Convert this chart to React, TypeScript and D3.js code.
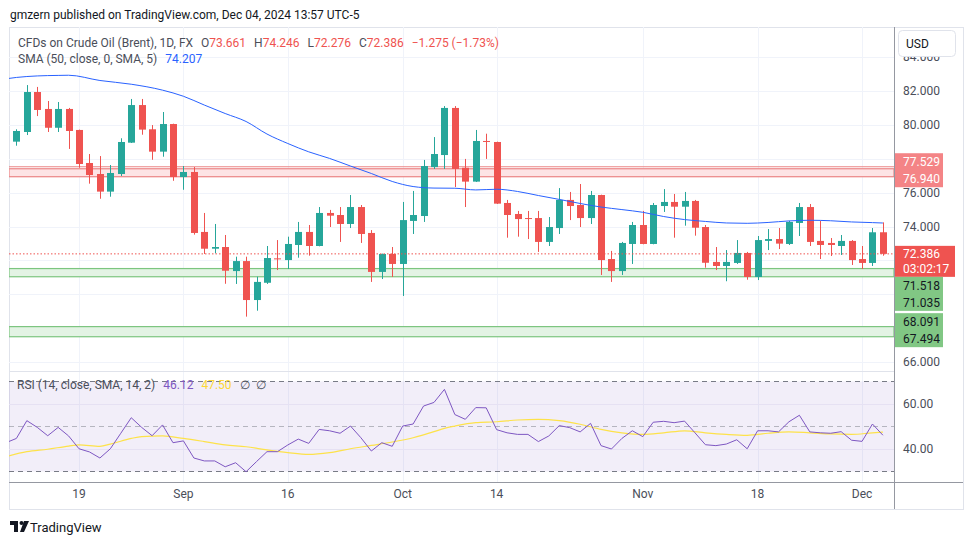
import React, { useEffect } from "react";
import * as d3 from "d3";

const W = 970;
const H = 545;

// time axis
const tickIdx = [6, 16, 26, 37, 46, 60, 71, 81];
const tickLabels = ["19", "Sep", "16", "Oct", "14", "Nov", "18", "Dec"];
const priceTicks = [84, 82, 80, 78, 76, 74, 72, 70, 68, 66];
const rsiTicks = [60, 40];

// OHLC (Aug 9 .. Dec 4, 2024)
const openP = [79.01, 79.58, 81.94, 80.94, 79.83, 80.94, 79.70, 77.75, 77.10, 76.06,
  77.10, 78.95, 81.17, 79.74, 78.42, 80.05, 76.92, 77.22, 73.68, 72.69,
  72.79, 71.37, 71.96, 69.66, 70.68, 72.12, 72.02, 72.91, 73.68, 72.85,
  74.80, 74.68, 74.15, 75.15, 73.62, 71.32, 72.38, 71.79, 74.33, 74.62,
  77.51, 78.22, 81.00, 77.47, 76.65, 79.05, 78.99, 75.39, 74.74, 74.50,
  74.50, 73.09, 73.91, 75.57, 75.27, 74.50, 75.86, 72.08, 71.37, 72.97,
  74.09, 72.97, 75.21, 75.45, 75.17, 75.51, 73.97, 71.91, 71.67, 71.85,
  72.44, 71.02, 73.15, 73.26, 72.97, 74.21, 75.15, 73.15, 73.03, 72.85,
  73.15, 72.08, 71.85, 73.661];
const highP = [79.74, 82.35, 82.24, 81.41, 81.35, 81.00, 79.72, 78.28, 78.16, 77.63,
  79.21, 81.53, 81.53, 79.99, 80.76, 80.07, 77.57, 77.51, 74.80, 74.15,
  73.50, 72.22, 72.22, 71.04, 72.85, 73.20, 73.40, 74.27, 74.09, 75.15,
  74.98, 75.15, 75.86, 75.27, 73.79, 72.40, 72.79, 75.45, 76.10, 77.93,
  79.28, 81.11, 81.11, 77.99, 79.70, 79.48, 79.01, 75.57, 74.92, 74.92,
  74.92, 74.56, 76.27, 76.04, 76.51, 76.10, 75.88, 72.56, 73.09, 74.27,
  74.92, 75.39, 76.21, 75.92, 76.04, 75.57, 74.09, 72.79, 72.61, 73.20,
  72.50, 73.44, 73.85, 73.91, 74.33, 75.39, 75.33, 74.33, 73.32, 73.50,
  73.20, 72.85, 73.91, 74.246];
const lowP = [78.77, 79.40, 80.52, 79.58, 79.58, 78.58, 77.47, 76.53, 75.64, 75.76,
  76.98, 78.93, 79.42, 77.94, 78.12, 76.70, 76.17, 73.52, 72.38, 72.42,
  70.62, 70.61, 68.68, 69.03, 70.61, 71.43, 71.49, 72.16, 72.28, 72.83,
  73.97, 73.09, 73.91, 73.03, 70.73, 70.90, 71.02, 69.90, 73.56, 74.27,
  77.40, 77.40, 76.33, 75.15, 76.63, 77.99, 75.33, 73.34, 73.40, 73.26,
  72.50, 72.85, 73.56, 74.38, 73.97, 74.15, 71.14, 70.73, 71.14, 71.79,
  72.95, 72.95, 74.86, 73.34, 74.05, 73.46, 71.57, 71.43, 70.77, 71.79,
  70.86, 70.84, 72.61, 72.67, 72.91, 73.44, 72.85, 72.08, 72.26, 72.32,
  71.73, 71.49, 71.67, 72.276];
const closeP = [79.64, 81.94, 80.88, 79.83, 80.94, 79.64, 77.69, 77.04, 76.06, 77.16,
  78.99, 81.17, 79.72, 78.42, 80.05, 76.92, 77.22, 73.62, 72.69, 72.79,
  71.39, 71.96, 69.66, 70.73, 72.14, 72.08, 72.97, 73.68, 72.85, 74.80,
  74.64, 74.15, 75.15, 73.56, 71.32, 72.38, 71.79, 74.38, 74.68, 77.57,
  78.28, 81.00, 77.40, 76.65, 79.05, 79.01, 75.35, 74.68, 74.44, 74.47,
  73.09, 73.97, 75.57, 75.21, 74.50, 75.86, 72.02, 71.37, 73.03, 74.09,
  72.97, 75.27, 75.45, 75.17, 75.51, 73.93, 71.86, 71.67, 71.91, 72.44,
  71.02, 73.20, 73.26, 72.99, 74.27, 75.15, 73.09, 72.91, 72.91, 73.15,
  72.02, 71.85, 73.66, 72.386];

// SMA(50) read at sampled bars (index, value)
const smaIdx = [-1, 0, 2, 4, 5, 8, 11, 14, 16, 18, 20, 22, 24, 26, 28, 30, 32, 34, 36, 38, 40,
  42, 44, 46, 48, 50, 52, 54, 56, 58, 60, 62, 64, 66, 68, 70, 72, 74, 76, 78, 80, 82, 83];
const smaVal = [82.72, 82.80, 82.89, 82.92, 82.93, 82.62, 82.40, 82.05, 81.69, 81.17, 80.67,
  80.20, 79.46, 78.90, 78.41, 78.02, 77.57, 77.13, 76.66, 76.36, 76.27, 76.26, 76.16, 76.20,
  76.07, 75.83, 75.60, 75.36, 75.15, 75.00, 74.84, 74.59, 74.41, 74.30, 74.21, 74.19, 74.24,
  74.33, 74.37, 74.34, 74.27, 74.23, 74.207];

// RSI(14)
const rsiLead = 42.8;
const rsiVal = [44.7, 52.6, 49.6, 45.9, 49.6, 45.8, 40.1, 38.7, 36.0, 40.1,
  47.0, 53.9, 49.6, 45.9, 50.7, 42.8, 43.6, 36.0, 34.7, 34.7,
  32.1, 33.9, 29.9, 34.4, 38.8, 38.8, 41.8, 44.4, 42.5, 48.7,
  48.1, 47.0, 50.2, 45.0, 39.1, 42.8, 41.2, 50.2, 51.1, 59.1,
  60.7, 66.5, 55.3, 53.2, 58.4, 58.3, 48.6, 47.2, 46.5, 46.5,
  43.3, 45.8, 50.4, 49.5, 47.6, 51.4, 41.5, 40.0, 44.7, 48.1,
  45.5, 51.9, 52.3, 51.7, 52.4, 47.2, 41.9, 41.5, 42.2, 44.1,
  40.1, 48.1, 48.1, 47.6, 52.1, 55.0, 47.6, 47.2, 47.0, 47.7,
  43.9, 43.4, 51.1, 46.12];
// RSI SMA(14) sampled
const rsiSmaIdx = [-1, 1, 3, 5, 6, 8, 9, 11, 12, 14, 16, 18, 20, 22, 24, 26, 28, 30, 32, 34, 36,
  38, 40, 41, 42, 44, 46, 48, 50, 52, 54, 56, 58, 60, 62, 64, 66, 68, 70, 72, 74, 76, 78, 80, 82, 83];
const rsiSmaVal = [36.6, 38.8, 39.9, 41.3, 41.8, 41.2, 42.2, 44.7, 45.5, 45.8, 44.7, 43.3, 41.8,
  41.0, 39.6, 38.4, 37.6, 38.4, 40.1, 41.6, 43.1, 45.0, 47.7, 49.2, 50.2, 51.7, 52.1, 52.9,
  53.2, 52.6, 51.0, 48.7, 47.2, 46.5, 47.2, 48.1, 47.2, 46.5, 46.1, 47.0, 47.6, 47.2, 46.7,
  46.5, 47.2, 47.5];

// drawings
const redLine = 77.529;
const redZone = [77.41, 76.94];
const greenZones = [[71.518, 71.035], [68.091, 67.494]];
const lastPrice = 72.386;

const GREEN = "#26A69A";
const RED = "#EF5350";
const FONT = "Roboto, 'Open Sans', Arial, sans-serif";

// layout
const PL = 9, PR = 894, PT = 27, PB = 371, RB = 482, AB = 509, FR = 963;

export default function App() {
  useEffect(() => {
    document.body.style.margin = "0";
  }, []);

  const x = d3.scaleLinear().domain([0, 83]).range([16.4, 882.9]);
  const y = d3.scaleLinear().domain([66, 82]).range([362.04, 91]);
  const ry = d3.scaleLinear().domain([30, 70]).range([471.5, 381.5]);

  const smaLine = d3.line<number>()
    .x((_, i) => x(smaIdx[i]))
    .y((d) => y(d))
    .curve(d3.curveMonotoneX)(smaVal) || "";

  const rsiPts: [number, number][] = [[-1, rsiLead], ...rsiVal.map((v, i) => [i, v] as [number, number])];
  const rsiPath = d3.line<[number, number]>().x((d) => x(d[0])).y((d) => ry(d[1]))(rsiPts) || "";
  const rsiSmaPath = d3.line<number>()
    .x((_, i) => x(rsiSmaIdx[i]))
    .y((d) => ry(d))
    .curve(d3.curveMonotoneX)(rsiSmaVal) || "";

  // label layout
  const LH = 17;
  const curTop = y(lastPrice) - 8;
  const curBot = curTop + 31;
  const groupTop = (a: number, b: number) => {
    const mid = (y(a) + y(b)) / 2;
    let top = mid - LH - 1.5;
    if (top < curBot && top + 2 * LH > curTop) top = curBot;
    return top;
  };
  const redTop = groupTop(redLine, redZone[1]);
  const g1Top = groupTop(greenZones[0][0], greenZones[0][1]);
  const g2Top = groupTop(greenZones[1][0], greenZones[1][1]);

  const boxes = [
    [redTop, redTop + 2 * LH],
    [curTop, curBot],
    [g1Top, g1Top + 2 * LH],
    [g2Top, g2Top + 2 * LH],
  ];
  const visibleTicks = priceTicks.filter((t) => {
    const ty = y(t);
    return !boxes.some(([a, b]) => ty > a - 4 && ty < b + 4);
  });

  const gridC = "#F0F3FA";
  const axisText = "#4A4E59";

  return (
    <svg width={W} height={H} style={{ position: "absolute", left: 0, top: 0, background: "#fff" }} fontFamily={FONT}>
      <defs>
        <clipPath id="pp"><rect x={PL} y={PT} width={PR - PL} height={PB - PT} /></clipPath>
        <clipPath id="rp"><rect x={PL} y={PB} width={PR - PL} height={RB - PB} /></clipPath>
        <clipPath id="ax"><rect x={PR + 1} y={57} width={FR - PR - 1} height={AB - 57} /></clipPath>
      </defs>
      <rect x={0} y={0} width={W} height={H} fill="#fff" />

      {/* header */}
      <text x={10} y={18.5} fontSize={12} fill="#131722">gmzern published on TradingView.com, Dec 04, 2024 13:57 UTC-5</text>

      {/* frame */}
      <rect x={PL + 0.5} y={PT + 0.5} width={FR - PL} height={AB - PT} fill="none" stroke="#E0E3EB" />

      {/* grid price pane */}
      <g clipPath="url(#pp)">
        {priceTicks.map((t) => (
          <line key={t} x1={PL} x2={PR} y1={Math.round(y(t)) + 0.5} y2={Math.round(y(t)) + 0.5} stroke={gridC} />
        ))}
      </g>
      {tickIdx.map((t) => (
        <line key={t} x1={Math.round(x(t)) + 0.5} x2={Math.round(x(t)) + 0.5} y1={PT} y2={RB} stroke={gridC} />
      ))}

      {/* zones */}
      <g clipPath="url(#pp)">
        <line x1={PL} x2={PR} y1={y(redLine)} y2={y(redLine)} stroke="#EB8686" strokeWidth={1.2} />
        <rect x={PL} y={y(redZone[0])} width={PR - PL} height={y(redZone[1]) - y(redZone[0])} fill="#FDE4E5" stroke="#EB8686" strokeWidth={1.2} />
        {greenZones.map((z, i) => (
          <rect key={i} x={PL} y={y(z[0])} width={PR - PL} height={y(z[1]) - y(z[0])} fill="#E3F3E4" stroke="#7CC57F" strokeWidth={1.2} />
        ))}
      </g>

      {/* candles */}
      <g clipPath="url(#pp)">
        {openP.map((o, i) => {
          const c = closeP[i];
          const up = c >= o;
          const col = up ? GREEN : RED;
          const cx = Math.round(x(i)) + 0.5;
          const yt = y(Math.max(o, c));
          const yb = y(Math.min(o, c));
          return (
            <g key={i}>
              <line x1={cx} x2={cx} y1={y(highP[i])} y2={y(lowP[i])} stroke={col} />
              <rect x={cx - 3.5} y={yt} width={7} height={Math.max(1, yb - yt)} fill={col} />
            </g>
          );
        })}
        <path d={smaLine} fill="none" stroke="#2962FF" strokeWidth={1} />
        <line x1={PL} x2={PR} y1={y(lastPrice)} y2={y(lastPrice)} stroke={RED} strokeDasharray="1.5 2" />
      </g>

      {/* legend */}
      <text x={18} y={46.5} fontSize={12} fill="#4A4E59">
        CFDs on Crude Oil (Brent), 1D, FX
        <tspan dx={8}>O</tspan><tspan fill={RED}>73.661</tspan>
        <tspan dx={8}>H</tspan><tspan fill={RED}>74.246</tspan>
        <tspan dx={8}>L</tspan><tspan fill={RED}>72.276</tspan>
        <tspan dx={8}>C</tspan><tspan fill={RED}>72.386</tspan>
        <tspan dx={8} fill={RED}>−1.275 (−1.73%)</tspan>
      </text>
      <text x={18} y={63} fontSize={12} fill="#4A4E59">
        SMA (50, close, 0, SMA, 5)<tspan dx={8} fill="#2962FF">74.207</tspan>
      </text>

      {/* pane separator */}
      <line x1={PL} x2={PR} y1={PB + 0.5} y2={PB + 0.5} stroke="#E0E3EB" />

      {/* RSI pane */}
      <g clipPath="url(#rp)">
        <rect x={PL} y={ry(70)} width={PR - PL} height={ry(30) - ry(70)} fill="#7E57C2" fillOpacity={0.1} />
        {rsiTicks.map((t) => (
          <line key={t} x1={PL} x2={PR} y1={Math.round(ry(t)) + 0.5} y2={Math.round(ry(t)) + 0.5} stroke="#E6E1F3" />
        ))}
        <line x1={PL} x2={PR} y1={ry(70)} y2={ry(70)} stroke="#787B86" strokeDasharray="5 4" />
        <line x1={PL} x2={PR} y1={ry(50)} y2={ry(50)} stroke="#787B86" strokeOpacity={0.5} strokeDasharray="5 4" />
        <line x1={PL} x2={PR} y1={ry(30)} y2={ry(30)} stroke="#787B86" strokeDasharray="5 4" />
        <path d={rsiSmaPath} fill="none" stroke="#FDE24A" strokeWidth={1.2} />
        <path d={rsiPath} fill="none" stroke="#7E57C2" strokeWidth={1} />
      </g>
      <text x={17} y={389} fontSize={12} fill="#4A4E59">
        RSI (14, close, SMA, 14, 2)
        <tspan dx={8} fill="#7E57C2">46.12</tspan>
        <tspan dx={8} fill="#FDD835">47.50</tspan>
        <tspan dx={8}>∅</tspan>
        <tspan dx={6}>∅</tspan>
      </text>

      {/* axes lines */}
      <line x1={PR + 0.5} x2={PR + 0.5} y1={PT} y2={AB} stroke="#9598A1" />
      <line x1={PL} x2={FR} y1={RB + 0.5} y2={RB + 0.5} stroke="#9598A1" />

      {/* price axis labels */}
      <g clipPath="url(#ax)">
        {visibleTicks.map((t) => (
          <text key={t} x={903} y={y(t)} dy="0.35em" fontSize={12} fill={axisText}>{t.toFixed(3)}</text>
        ))}
      </g>
      {rsiTicks.map((t) => (
        <text key={t} x={903} y={ry(t)} dy="0.35em" fontSize={12} fill={axisText}>{t.toFixed(2)}</text>
      ))}

      {/* USD box */}
      <rect x={898.5} y={30.5} width={57} height={26} rx={4} fill="#fff" stroke="#E0E3EB" />
      <text x={906} y={43.5} dy="0.35em" fontSize={12} fill="#131722">USD</text>

      {/* red labels */}
      <rect x={895} y={redTop} width={48} height={2 * LH} fill="#F48486" />
      <text x={903} y={redTop + LH / 2} dy="0.35em" fontSize={12} fill="#fff">{redLine.toFixed(3)}</text>
      <text x={903} y={redTop + LH * 1.5} dy="0.35em" fontSize={12} fill="#fff">{redZone[1].toFixed(3)}</text>

      {/* current price */}
      <rect x={895} y={curTop} width={60} height={curBot - curTop} fill={RED} />
      <text x={903} y={y(lastPrice)} dy="0.35em" fontSize={12} fill="#fff">{lastPrice.toFixed(3)}</text>
      <text x={903} y={y(lastPrice) + 14.5} dy="0.35em" fontSize={12} fill="#fff">03:02:17</text>

      {/* green labels */}
      {[[g1Top, greenZones[0]], [g2Top, greenZones[1]]].map(([top, z]: any, i) => (
        <g key={i}>
          <rect x={895} y={top} width={48} height={2 * LH} fill="#81C784" />
          <text x={903} y={top + LH / 2} dy="0.35em" fontSize={12} fill="#131722">{z[0].toFixed(3)}</text>
          <text x={903} y={top + LH * 1.5} dy="0.35em" fontSize={12} fill="#131722">{z[1].toFixed(3)}</text>
        </g>
      ))}

      {/* time axis */}
      {tickIdx.map((t, i) => (
        <text key={t} x={x(t)} y={498} textAnchor="middle" fontSize={12} fill={axisText}>{tickLabels[i]}</text>
      ))}

      {/* footer logo */}
      <path d="M10,521 h8 v11 h-4 v-7 h-4 z" fill="#131722" />
      <circle cx={21.5} cy={523} r={2} fill="#131722" />
      <path d="M24,521 h5 l-5,11 h-4 z" fill="#131722" />
      <text x={30} y={531.5} fontSize={13} fill="#131722">TradingView</text>
    </svg>
  );
}
